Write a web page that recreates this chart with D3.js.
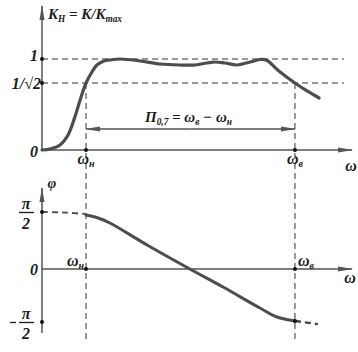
<!DOCTYPE html>
<html>
<head>
<meta charset="utf-8">
<script src="https://cdn.jsdelivr.net/npm/d3@7"></script>
<style>
  body { margin: 0; background: #fff; }
  svg { display: block; }
  text { font-family: "Liberation Serif", "DejaVu Serif", serif; font-style: italic; font-weight: bold; fill: #1a1a1a; }
</style>
</head>
<body>
<svg id="chart"></svg>
<script>
// frequency axis, arbitrary units
const omegaLow = 1.42
const omegaHigh = 8.16
const omegaMax = 10

// amplitude response K/Kmax
const ampOmega = [0, 0.26, 0.58, 0.84, 1.06, 1.23, 1.42, 1.61, 1.77, 2.0, 2.19, 2.52, 3.16, 3.81, 4.45, 4.94, 5.52, 5.9, 6.29, 6.71, 7.03, 7.23, 7.68, 8.16, 8.55, 8.94]
const ampK = [0, 0.011, 0.053, 0.158, 0.348, 0.528, 0.707, 0.841, 0.927, 0.976, 0.988, 1.0, 0.976, 0.939, 0.927, 0.927, 0.963, 0.951, 0.927, 0.963, 0.994, 0.988, 0.841, 0.707, 0.623, 0.549]

// phase response, in units of pi/2
const phaseOmega = [1.42, 1.81, 2.19, 3.39, 4.77, 5.84, 7.03, 7.58, 8.16]
const phaseVal = [0.947, 0.895, 0.807, 0.421, 0, -0.34, -0.736, -0.906, -0.981]
const phaseLeftOmega = [0, 0.7, 1.42]
const phaseLeftVal = [1.0, 0.99, 0.965]
const phaseRightOmega = [8.16, 8.9]
const phaseRightVal = [-0.981, -1.04]

const ampTicks = [0, Math.SQRT1_2, 1]
const phaseTicks = [-1, 0, 1]

const W = 358, H = 352
const svg = d3.select('#chart').attr('width', W).attr('height', H)

const x = d3.scaleLinear().domain([0, omegaMax]).range([42, 352])
const yA = d3.scaleLinear().domain([0, Math.SQRT1_2, 1]).range([150, 83, 59])
const yP = d3.scaleLinear().domain([-1, 0, 1]).range([322, 269, 212])

const axisCol = '#555'
const defs = svg.append('defs')
defs.append('marker')
    .attr('id', 'ah').attr('viewBox', '0 0 15 7')
    .attr('refX', 14).attr('refY', 3.5)
    .attr('markerWidth', 15).attr('markerHeight', 7)
    .attr('markerUnits', 'userSpaceOnUse')
    .attr('orient', 'auto')
  .append('path').attr('d', 'M0,1 L15,3.5 L0,6 Z').attr('fill', '#555')

const line = (yS) => d3.line().x(d => x(d[0])).y(d => yS(d[1])).curve(d3.curveCatmullRom)

// dashed guides
const dash = svg.append('g').attr('stroke', '#333').attr('stroke-width', 1).attr('stroke-dasharray', '6,4').attr('fill', 'none')
ampTicks.slice(1).forEach(k => {
    dash.append('line').attr('x1', x(0)).attr('x2', x(9.74)).attr('y1', yA(k)).attr('y2', yA(k))
})
;[omegaLow, omegaHigh].forEach(w => {
    dash.append('line').attr('x1', x(w)).attr('x2', x(w)).attr('y1', yA(Math.SQRT1_2)).attr('y2', 341)
})

// axes
const ax = svg.append('g').attr('stroke', axisCol).attr('stroke-width', 1.5)
ax.append('line').attr('x1', x(0)).attr('x2', x(0)).attr('y1', yA(0)).attr('y2', 6).attr('marker-end', 'url(#ah)')
ax.append('line').attr('x1', x(0)).attr('x2', x(omegaMax)).attr('y1', yA(0)).attr('y2', yA(0)).attr('marker-end', 'url(#ah)')
ax.append('line').attr('x1', x(0)).attr('x2', x(0)).attr('y1', 333).attr('y2', 188).attr('marker-end', 'url(#ah)')
ax.append('line').attr('x1', x(0)).attr('x2', x(omegaMax)).attr('y1', yP(0)).attr('y2', yP(0)).attr('marker-end', 'url(#ah)')

// bandwidth arrow
const bw = svg.append('g').attr('stroke', '#555').attr('stroke-width', 1.5)
bw.append('line').attr('x1', x((omegaLow + omegaHigh) / 2)).attr('x2', x(omegaHigh)).attr('y1', 129).attr('y2', 129).attr('marker-end', 'url(#ah)')
bw.append('line').attr('x1', x((omegaLow + omegaHigh) / 2)).attr('x2', x(omegaLow)).attr('y1', 129).attr('y2', 129).attr('marker-end', 'url(#ah)')

// curves
svg.append('path').datum(d3.zip(ampOmega, ampK))
    .attr('d', line(yA)).attr('fill', 'none').attr('stroke', '#4d4d4d').attr('stroke-width', 3.2).attr('stroke-linecap', 'round')
svg.append('path').datum(d3.zip(phaseOmega, phaseVal))
    .attr('d', line(yP)).attr('fill', 'none').attr('stroke', '#4d4d4d').attr('stroke-width', 3).attr('stroke-linecap', 'round')
svg.append('path').datum(d3.zip(phaseLeftOmega, phaseLeftVal))
    .attr('d', line(yP)).attr('fill', 'none').attr('stroke', '#555').attr('stroke-width', 2).attr('stroke-dasharray', '6,4')
svg.append('path').datum(d3.zip(phaseRightOmega, phaseRightVal))
    .attr('d', line(yP)).attr('fill', 'none').attr('stroke', '#444').attr('stroke-width', 2.4).attr('stroke-dasharray', '6,4')

// dots at intersections
const dots = [
    [x(0), yA(1)], [x(0), yA(Math.SQRT1_2)], [x(omegaLow), yA(0)], [x(omegaHigh), yA(0)],
    [x(0), yP(phaseTicks[2])], [x(0), yP(phaseTicks[0])], [x(omegaLow), yP(0)], [x(omegaHigh), yP(0)], [x(omegaHigh), yP(phaseVal[phaseVal.length - 1])]
]
svg.append('g').selectAll('circle').data(dots).join('circle')
    .attr('cx', d => d[0]).attr('cy', d => d[1]).attr('r', 2).attr('fill', '#111')

// text helpers
function label(px, py, parts, size, anchor) {
    const t = svg.append('text').attr('x', px).attr('y', py).attr('font-size', size).attr('text-anchor', anchor || 'start')
    parts.forEach(p => {
        if (typeof p === 'string') t.append('tspan').attr('dy', 0).text(p)
        else t.append('tspan').attr('font-size', p.size || size * 0.62).attr('dy', p.dy).text(p.t)
    })
    return t
}

// top chart labels
label(48, 19, ['K', {t: 'Н', dy: 3}, {t: ' = K/K', dy: -3, size: 15}, {t: 'max', dy: 3}], 15)
label(38, 61, ['1'], 16, 'end')
label(41, 89, ['1/√2'], 16, 'end')
label(38, 157, ['0'], 16, 'end')
label(x(omegaLow), 164, ['ω', {t: 'н', dy: 3}], 16, 'middle')
label(x(omegaHigh), 164, ['ω', {t: 'в', dy: 3}], 16, 'middle')
label(351, 171, ['ω'], 16, 'middle')
label(145, 122, ['П', {t: '0,7', dy: 3}, {t: ' = ω', dy: -3, size: 15}, {t: 'в', dy: 3}, {t: ' − ω', dy: -3, size: 15}, {t: 'н', dy: 3}], 15)

// bottom chart labels
label(52, 188, ['φ'], 15, 'middle')
label(26, 209, ['π'], 16, 'middle')
label(26, 229, ['2'], 16, 'middle')
svg.append('line').attr('x1', 19).attr('x2', 34).attr('y1', 212.5).attr('y2', 212.5).attr('stroke', '#1a1a1a').attr('stroke-width', 1.3)
label(26, 319, ['π'], 16, 'middle')
label(26, 339, ['2'], 16, 'middle')
svg.append('line').attr('x1', 19).attr('x2', 34).attr('y1', 322.5).attr('y2', 322.5).attr('stroke', '#1a1a1a').attr('stroke-width', 1.3)
svg.append('line').attr('x1', 10).attr('x2', 16).attr('y1', 322.5).attr('y2', 322.5).attr('stroke', '#1a1a1a').attr('stroke-width', 1.3)
label(38, 275, ['0'], 16, 'end')
label(x(omegaLow) - 2, 266, ['ω', {t: 'н', dy: 3}], 16, 'end')
label(x(omegaHigh) + 3, 266, ['ω', {t: 'в', dy: 3}], 16, 'start')
label(350, 283, ['ω'], 16, 'middle')
</script>
</body>
</html>
